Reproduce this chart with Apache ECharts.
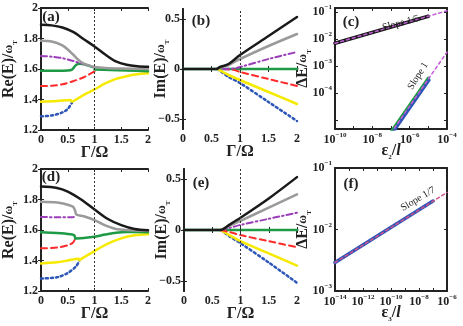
<!DOCTYPE html>
<html>
<head>
<meta charset="utf-8">
<script src="https://cdn.jsdelivr.net/npm/echarts@6/dist/echarts.min.js"></script>
<style>
  html, body { margin: 0; padding: 0; background: #fff; }
  #chart { width: 463px; height: 326px; }
</style>
</head>
<body>
<div id="chart"></div>
<script>
// ---- data ----
// panel (a): Re(E)/wT vs Gamma/Omega
var aBlack  = [[0,1.89],[0.2,1.886],[0.4,1.872],[0.6,1.843],[0.8,1.795],[1.0,1.748],[1.2,1.695],[1.4,1.65],[1.6,1.628],[1.8,1.618],[2.0,1.614]];
var aGray   = [[0,1.785],[0.2,1.78],[0.4,1.755],[0.5,1.728],[0.6,1.695],[0.7,1.66],[0.8,1.635],[0.9,1.622],[1.0,1.614],[1.2,1.607],[1.5,1.603],[2.0,1.6]];
var aPurple = [[0,1.685],[0.2,1.681],[0.4,1.671],[0.6,1.653],[0.7,1.642],[0.8,1.632],[0.9,1.622],[1.0,1.612]];
var aGreen1 = [[0,1.588],[0.3,1.588],[0.5,1.59],[0.58,1.596],[0.62,1.612],[0.66,1.628],[0.72,1.634],[0.85,1.626],[0.97,1.612]];
var aGreen2 = [[1.0,1.596],[1.3,1.594],[1.6,1.59],[2.0,1.586]];
var aRed    = [[0,1.488],[0.2,1.49],[0.4,1.5],[0.6,1.52],[0.8,1.546],[0.95,1.574],[1.0,1.585]];
var aYellow = [[0,1.386],[0.3,1.39],[0.55,1.396],[0.58,1.386],[0.62,1.392],[0.8,1.43],[1.0,1.466],[1.2,1.505],[1.4,1.535],[1.6,1.553],[1.8,1.565],[2.0,1.572]];
var aBlue   = [[0,1.29],[0.2,1.295],[0.4,1.315],[0.5,1.338],[0.58,1.38]];

// panel (b): Im(E)/wT vs Gamma/Omega
var bBlack  = [[0,0],[0.58,0],[0.65,0.02],[0.8,0.05],[1.0,0.14],[1.5,0.33],[2.0,0.52]];
var bGray   = [[0.6,0],[0.7,0.02],[0.8,0.04],[1.0,0.1],[1.5,0.23],[2.0,0.35]];
var bPurple = [[0.7,0],[0.9,0.005],[1.0,0.02],[1.5,0.1],[2.0,0.17]];
var bGreen  = [[0,0],[2.0,0]];
var bRed    = [[0.7,0],[0.9,-0.01],[1.0,-0.03],[1.5,-0.1],[2.0,-0.17]];
var bYellow = [[0.6,0],[0.7,-0.03],[0.8,-0.06],[1.0,-0.11],[1.5,-0.23],[2.0,-0.35]];
var bBlue   = [[0.6,0],[0.7,-0.04],[0.8,-0.08],[1.0,-0.14],[1.5,-0.33],[2.0,-0.52]];

// panel (c): Delta E vs eps2/l (log-log)
var cBlack  = [[1e-10,7e-3],[1e-5,7e-2]];
var cPinkUp = [[1e-10,7e-3],[1e-4,1.11e-1]];
var cGreen  = [[1e-7,3.5e-6],[1e-5,3.5e-4]];
var cBlue   = [[1.2e-7,3.3e-6],[1.1e-5,3.0e-4]];
var cPinkLo = [[1e-7,3.3e-6],[1e-4,3.3e-3]];

// panel (d)
var dBlack  = [[0,1.885],[0.3,1.876],[0.5,1.852],[0.75,1.8],[1.0,1.735],[1.25,1.672],[1.5,1.632],[1.75,1.607],[2.0,1.598]];
var dGray   = [[0,1.785],[0.3,1.78],[0.5,1.766],[0.6,1.752],[0.64,1.725],[0.66,1.702],[0.8,1.69],[1.0,1.665],[1.2,1.63],[1.4,1.607],[1.6,1.6],[2.0,1.595]];
var dPurple = [[0,1.685],[0.3,1.684],[0.6,1.684],[0.66,1.698]];
var dGreen1 = [[0,1.585],[0.3,1.58],[0.55,1.572],[0.62,1.565],[0.64,1.546]];
var dGreen2 = [[0.65,1.545],[0.8,1.548],[1.0,1.556],[1.2,1.57],[1.4,1.582],[1.6,1.587],[2.0,1.586]];
var dRed    = [[0,1.48],[0.3,1.485],[0.5,1.5],[0.6,1.518],[0.64,1.545]];
var dYellow = [[0,1.381],[0.3,1.388],[0.5,1.4],[0.7,1.412],[0.72,1.402],[0.76,1.412],[1.0,1.462],[1.25,1.51],[1.5,1.545],[1.75,1.565],[2.0,1.572]];
var dBlue   = [[0,1.282],[0.3,1.29],[0.5,1.318],[0.65,1.36],[0.72,1.4]];

// panel (e)
var eBlack  = [[0,0],[0.65,0],[0.8,0.05],[1.0,0.12],[1.5,0.31],[2.0,0.52]];
var eGray   = [[0.65,0],[0.8,0.04],[1.0,0.09],[1.5,0.22],[2.0,0.35]];
var ePurple = [[0.65,0],[0.8,0.02],[1.0,0.05],[1.5,0.11],[2.0,0.17]];
var eGreen  = [[0,0],[2.0,0]];
var eRed    = [[0.65,0],[0.8,-0.02],[1.0,-0.05],[1.5,-0.11],[2.0,-0.17]];
var eYellow = [[0.65,0],[0.8,-0.05],[1.0,-0.11],[1.5,-0.23],[2.0,-0.35]];
var eBlue   = [[0.65,0],[0.8,-0.06],[1.0,-0.13],[1.5,-0.32],[2.0,-0.52]];

// panel (f)
var fBlue   = [[1e-14,2.9e-3],[1e-7,2.9e-2]];
var fPink   = [[1e-14,2.9e-3],[1e-6,4.0e-2]];

var xTicksLin = [0, 0.5, 1, 1.5, 2];
var imTicks = [-0.5, 0, 0.5];
var cLogTicks = [1e-10, 1e-8, 1e-6, 1e-4];
var fLogTicks = [1e-14, 1e-12, 1e-10, 1e-8, 1e-6];

// ---- styles ----
var SERIF = '"Liberation Serif", "DejaVu Serif", serif';
var LS = {
  black:  { color: '#1a1a1a', width: 2.5 },
  gray:   { color: '#9a9a9a', width: 2.5 },
  purple: { color: '#9b3fb8', width: 2, type: [6, 3, 1.5, 3] },
  green:  { color: '#1e9a46', width: 2.5 },
  red:    { color: '#ff2a2a', width: 2, type: [6, 4] },
  yellow: { color: '#f6ea00', width: 2.5 },
  blue:   { color: '#2d56b8', width: 2.5, type: [2, 3] },
  pink:   { color: '#c15bd6', width: 1.5, type: [3, 3] }
};

var grids = [
  { left: 35,  top: 8,   width: 113, height: 122 },
  { left: 183, top: 9,   width: 114, height: 120 },
  { left: 335, top: 8,   width: 112, height: 121 },
  { left: 35,  top: 169, width: 113, height: 122 },
  { left: 184, top: 169, width: 113, height: 122 },
  { left: 335, top: 168, width: 112, height: 123 }
];

var labelFont = { fontFamily: SERIF, fontWeight: 'bold', fontSize: 12, color: '#222' };
var powRich = {
  b: { fontFamily: SERIF, fontWeight: 'bold', fontSize: 12, color: '#222', lineHeight: 16 },
  s: { fontFamily: SERIF, fontWeight: 'bold', fontSize: 7, color: '#222', lineHeight: 8, verticalAlign: 'top' }
};
var nameRich = {
  n: { fontFamily: SERIF, fontWeight: 'bold', fontSize: 16, color: '#222', lineHeight: 20 },
  w: { fontFamily: SERIF, fontWeight: 'bold', fontSize: 12, color: '#222', lineHeight: 20 },
  t: { fontFamily: SERIF, fontWeight: 'bold', fontSize: 7, color: '#222', lineHeight: 12, verticalAlign: 'bottom' },
  i: { fontFamily: SERIF, fontWeight: 'bold', fontStyle: 'italic', fontSize: 16, color: '#222', lineHeight: 20 }
};

function powLabel(v) {
  var l = Math.log10(v);
  var e = Math.round(l);
  if (Math.abs(l - e) > 1e-6) return '';
  return '{b|10}{s|' + (e < 0 ? '\u2212' + (-e) : e) + '}';
}

function lin(v) { return String(v).replace('-', '\u2212'); }

var xAxes = [], yAxes = [], series = [];

function addAxes(gi, x, y) {
  var tick = { show: true, inside: true, length: 3, lineStyle: { color: '#222', width: 1 } };
  var line = { show: true, lineStyle: { color: '#222', width: 2 } };
  var xb = Object.assign({
    gridIndex: gi, position: 'bottom', axisLine: line, axisTick: tick,
    splitLine: { show: false }, nameMoveOverlap: false,
    nameLocation: 'middle', nameTextStyle: { rich: nameRich }
  }, x);
  xAxes.push(xb);
  xAxes.push(Object.assign({}, xb, { position: 'top', name: '', axisLabel: { show: false } }));
  var yb = Object.assign({
    gridIndex: gi, position: 'left', axisLine: line, axisTick: tick,
    splitLine: { show: false }, nameMoveOverlap: false,
    nameLocation: 'middle', nameRotate: 90, nameTextStyle: { rich: nameRich }
  }, y);
  yAxes.push(yb);
  yAxes.push(Object.assign({}, yb, { position: 'right', name: '', axisLabel: { show: false } }));
}

var gammaX = {
  type: 'value', min: 0, max: 2, name: '{n|\u0393/\u03a9}', nameGap: 13,
  axisLabel: Object.assign({ margin: 4, customValues: xTicksLin, formatter: lin }, labelFont),
  axisTick: { show: true, inside: true, length: 3, customValues: xTicksLin, lineStyle: { color: '#222' } }
};
var reY = {
  type: 'value', min: 1.2, max: 2, interval: 0.2, name: '{n|Re(E)/}{w|\u03c9}{t|T}', nameGap: 22,
  axisLabel: Object.assign({ margin: 3, formatter: lin }, labelFont)
};
var imY = {
  type: 'value', min: -0.6, max: 0.6, name: '{n|Im(E)/}{w|\u03c9}{t|T}', nameGap: 12,
  axisLabel: Object.assign({ margin: 3, customValues: imTicks, formatter: lin }, labelFont),
  axisTick: { show: true, inside: true, length: 3, customValues: imTicks, lineStyle: { color: '#222' } }
};

addAxes(0, gammaX, reY);
addAxes(1, gammaX, imY);
addAxes(2,
  { type: 'log', logBase: 10, min: 1e-10, max: 1e-4, name: '{n|\u03b5}{t|2}{n|/}{i|l}', nameGap: 12,
    axisLabel: { margin: 3, customValues: cLogTicks, rich: powRich, formatter: powLabel } },
  { type: 'log', logBase: 10, min: Math.pow(10, -5.33), max: Math.pow(10, -0.85),
    name: '{n|\u0394E/}{w|\u03c9}{t|T}', nameGap: 22,
    axisLabel: { margin: 3, interval: 0, rich: powRich, formatter: function (v) {
      var e = Math.round(Math.log10(v)); return e === -5 ? '' : powLabel(v); } } });
addAxes(3, gammaX, reY);
addAxes(4, gammaX, imY);
addAxes(5,
  { type: 'log', logBase: 10, min: 1e-14, max: 1e-6, name: '{n|\u03b5}{t|3}{n|/}{i|l}', nameGap: 12,
    axisLabel: { margin: 3, customValues: fLogTicks, rich: powRich, formatter: powLabel } },
  { type: 'log', logBase: 10, min: 1e-3, max: 1e-1,
    name: '{n|\u0394E/}{w|\u03c9}{t|T}', nameGap: 22,
    axisLabel: { margin: 3, interval: 0, rich: powRich, formatter: powLabel } });

function addLine(gi, data, style, smooth) {
  series.push({
    type: 'line', xAxisIndex: gi * 2, yAxisIndex: gi * 2, data: data,
    showSymbol: false, symbol: 'none', smooth: smooth === undefined ? 0.3 : smooth,
    lineStyle: Object.assign({ cap: 'round', join: 'round' }, style),
    animation: false, silent: true, z: 3
  });
}

function vline(gi) {
  series.push({
    type: 'line', xAxisIndex: gi * 2, yAxisIndex: gi * 2, data: [],
    markLine: { silent: true, symbol: 'none', label: { show: false }, animation: false,
      lineStyle: { color: '#333', width: 1, type: [2, 2] }, data: [{ xAxis: 1 }] }
  });
}

vline(0); vline(1); vline(3); vline(4);

addLine(0, aBlue, LS.blue); addLine(0, aYellow, LS.yellow); addLine(0, aRed, LS.red);
addLine(0, aGreen1, LS.green); addLine(0, aGreen2, LS.green); addLine(0, aPurple, LS.purple);
addLine(0, aGray, LS.gray); addLine(0, aBlack, LS.black);

addLine(1, bGreen, LS.green, false); addLine(1, bBlue, LS.blue); addLine(1, bYellow, LS.yellow);
addLine(1, bRed, LS.red); addLine(1, bPurple, LS.purple); addLine(1, bGray, LS.gray);
addLine(1, bBlack, LS.black);

addLine(2, cBlack, Object.assign({}, LS.black, { width: 3.5 }), false);
addLine(2, cPinkUp, LS.pink, false);
addLine(2, cGreen, Object.assign({}, LS.green, { width: 3.5 }), false);
addLine(2, cBlue, Object.assign({}, LS.blue, { type: 'solid', width: 3 }), false);
addLine(2, cPinkLo, LS.pink, false);

addLine(3, dBlue, LS.blue); addLine(3, dYellow, LS.yellow); addLine(3, dRed, LS.red);
addLine(3, dGreen1, LS.green); addLine(3, dGreen2, LS.green); addLine(3, dPurple, LS.purple);
addLine(3, dGray, LS.gray); addLine(3, dBlack, LS.black);

addLine(4, eGreen, LS.green, false); addLine(4, eBlue, LS.blue); addLine(4, eYellow, LS.yellow);
addLine(4, eRed, LS.red); addLine(4, ePurple, LS.purple); addLine(4, eGray, LS.gray);
addLine(4, eBlack, LS.black);

addLine(5, fBlue, Object.assign({}, LS.blue, { type: 'solid', width: 3.5 }), false);
addLine(5, fPink, Object.assign({}, LS.pink, { color: '#d0508a' }), false);

function txt(x, y, s, size, rot, weight) {
  return { type: 'text', x: x, y: y, rotation: (rot || 0) * Math.PI / 180, z: 10,
    style: { text: s, fontFamily: SERIF, fontSize: size, fontWeight: weight || 'normal',
      fill: '#222', align: 'center', verticalAlign: 'middle' } };
}

var chart = echarts.init(document.getElementById('chart'), null, { renderer: 'canvas' });
chart.setOption({
  backgroundColor: '#fff',
  animation: false,
  grid: grids,
  xAxis: xAxes,
  yAxis: yAxes,
  series: series,
  graphic: [
    txt(51, 17, '(a)', 15, 0, 'bold'),
    txt(201, 21, '(b)', 15, 0, 'bold'),
    txt(351, 22, '(c)', 15, 0, 'bold'),
    txt(51, 177, '(d)', 15, 0, 'bold'),
    txt(201, 183, '(e)', 15, 0, 'bold'),
    txt(351, 184, '(f)', 15, 0, 'bold'),
    txt(401, 23, 'Slope 1/5', 10, 15),
    txt(418, 76, 'Slope 1', 10, 58),
    txt(418, 199, 'Slope 1/7', 10, 31)
  ]
});
</script>
</body>
</html>
